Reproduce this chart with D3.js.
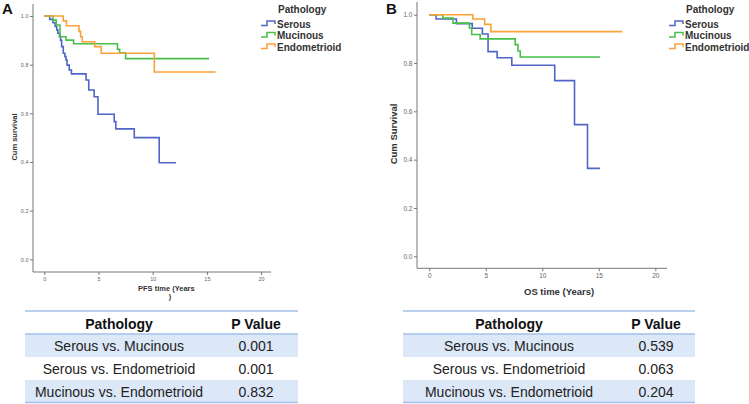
<!DOCTYPE html>
<html><head><meta charset="utf-8">
<script src="https://cdn.jsdelivr.net/npm/d3@7"></script>
<style>
html,body{margin:0;padding:0;background:#fff;}
svg{display:block;font-family:"Liberation Sans",Arial,sans-serif;}
</style></head>
<body><svg id="c" width="749" height="404"></svg>
<script>
// ---------- DATA ----------
const groups = ["Serous", "Mucinous", "Endometrioid"];
const groupColors = ["#4f66c6", "#46c04a", "#fba13a"];
const xTicks = [0, 5, 10, 15, 20];
const yTicks = [0, 0.2, 0.4, 0.6, 0.8, 1.0];

// Panel A: PFS  [time (years), cumulative survival]
const pfsSerous = [[0,1],[0.5,0.986],[0.8,0.972],[1.0,0.957],[1.15,0.943],[1.25,0.929],[1.4,0.915],[1.5,0.9],[1.6,0.874],[1.75,0.847],[1.9,0.833],[2.0,0.819],[2.1,0.798],[2.3,0.778],[2.5,0.762],[3.85,0.737],[4.1,0.696],[4.6,0.668],[4.95,0.596],[6.45,0.566],[6.6,0.536],[8.3,0.50],[10.6,0.397],[12.15,0.397]];
const pfsMucinous = [[0,1],[0.8,0.983],[1.1,0.963],[1.45,0.915],[2.0,0.901],[2.7,0.886],[6.75,0.863],[6.95,0.849],[7.5,0.825],[15.2,0.825]];
const pfsEndometrioid = [[0,1],[1.75,0.98],[2.05,0.96],[3.2,0.937],[3.35,0.915],[3.5,0.894],[4.65,0.874],[5.25,0.847],[10.15,0.77],[15.8,0.77]];

// Panel B: OS
const osSerous = [[0,1],[0.6,0.982],[2.4,0.963],[3.8,0.944],[4.7,0.92],[5.2,0.847],[6.0,0.822],[7.3,0.791],[11.1,0.727],[12.85,0.545],[14.0,0.364],[15.1,0.364]];
const osMucinous = [[0,1],[1.2,0.986],[2.1,0.965],[3.55,0.945],[3.75,0.918],[4.5,0.9],[7.6,0.876],[7.85,0.85],[8.05,0.825],[15.1,0.825]];
const osEndometrioid = [[0,1],[3.85,0.982],[4.9,0.96],[5.45,0.93],[17.1,0.93]];

// Tables
const comparisons = ["Serous vs. Mucinous", "Serous vs. Endometrioid", "Mucinous vs. Endometrioid"];
const pfsPValues = ["0.001", "0.001", "0.832"];
const osPValues = ["0.539", "0.063", "0.204"];
const tableHeaders = ["Pathology", "P Value"];

// ---------- DRAW ----------
const svg = d3.select("#c");

function drawPanel(cfg) {
  const g = svg.append("g");
  const x = d3.scaleLinear().domain([0, 20]).range([cfg.x0, cfg.x20]);
  const y = d3.scaleLinear().domain([0, 1]).range([cfg.y0, cfg.y1]);

  // y axis
  const yAx = g.append("g").attr("transform", `translate(${cfg.axisX},0)`)
    .call(d3.axisLeft(y).tickValues(yTicks).tickFormat(d3.format(".1f")).tickSize(3).tickPadding(1.5));
  yAx.select(".domain").remove();
  g.append("line").attr("x1", cfg.axisX).attr("x2", cfg.axisX).attr("y1", cfg.yTop).attr("y2", cfg.xAxisY)
    .attr("stroke", "#777").attr("stroke-width", 1);
  // x axis
  const xAx = g.append("g").attr("transform", `translate(0,${cfg.xAxisY})`)
    .call(d3.axisBottom(x).tickValues(xTicks).tickFormat(d3.format("d")).tickSize(3).tickPadding(2));
  xAx.select(".domain").remove();
  g.append("line").attr("x1", cfg.axisX).attr("x2", cfg.xRight).attr("y1", cfg.xAxisY).attr("y2", cfg.xAxisY)
    .attr("stroke", "#777").attr("stroke-width", 1);
  [yAx, xAx].forEach(a => {
    a.selectAll("line").attr("stroke", "#777");
    a.selectAll("text").attr("fill", "#666").style("font-size", cfg.tickFont + "px");
  });

  // curves
  const line = d3.line().x(d => x(d[0])).y(d => y(d[1])).curve(d3.curveStepAfter);
  cfg.series.forEach((s, i) => {
    g.append("path").datum(s).attr("d", line).attr("fill", "none")
      .attr("stroke", groupColors[i]).attr("stroke-width", 1.6);
  });

  // axis titles
  g.append("text").attr("transform", `translate(${cfg.yLabX},${cfg.yLabY}) rotate(-90)`)
    .attr("text-anchor", "middle").attr("font-weight", "bold").attr("fill", "#333")
    .style("font-size", cfg.yLabFont + "px").text(cfg.yLabel);
  cfg.xLabel.forEach((t, i) => {
    g.append("text").attr("x", cfg.xLabX[i]).attr("y", cfg.xLabY + i * cfg.xLabFont * 1.05)
      .attr("text-anchor", i === 0 ? "start" : "middle").attr("font-weight", "bold").attr("fill", "#333")
      .style("font-size", cfg.xLabFont + "px").text(t);
  });

  // panel letter
  g.append("text").attr("x", cfg.letterX).attr("y", 14).attr("font-weight", "bold")
    .style("font-size", "15px").attr("fill", "#111").text(cfg.letter);

  // legend
  const lg = g.append("g").attr("transform", `translate(${cfg.legX},0)`);
  lg.append("text").attr("x", 17).attr("y", 12.5).attr("font-weight", "bold").attr("fill", "#333")
    .style("font-size", "10px").text("Pathology");
  groups.forEach((name, i) => {
    const yy = 24 + i * 11.5;
    lg.append("path").attr("d", `M0,${yy+1.5} H6 V${yy-3} H14 V${yy}`)
      .attr("fill", "none").attr("stroke", groupColors[i]).attr("stroke-width", 1.5);
    lg.append("text").attr("x", 16).attr("y", yy + 3.5).attr("font-weight", "bold").attr("fill", "#333")
      .style("font-size", "10px").text(name);
  });
}

function drawTable(cfg) {
  const g = svg.append("g");
  const rowH = 23;
  const rows = d3.range(comparisons.length);
  const ry = d3.scaleBand().domain(rows).range([334, 334 + rowH * rows.length]);
  g.selectAll("rect.bg").data(rows).join("rect")
    .attr("x", cfg.x1).attr("width", cfg.x2 - cfg.x1)
    .attr("y", d => ry(d)).attr("height", ry.bandwidth())
    .attr("fill", d => d % 2 === 0 ? "#dce7f7" : "#ffffff");
  [311, 334, 334 + rowH * rows.length - 0.5].forEach(yy => {
    g.append("line").attr("x1", cfg.x1).attr("x2", cfg.x2).attr("y1", yy).attr("y2", yy)
      .attr("stroke", "#a3c1ea").attr("stroke-width", 1.5);
  });
  tableHeaders.forEach((h, i) => {
    g.append("text").attr("x", cfg.cols[i]).attr("y", 328.5).attr("text-anchor", "middle")
      .attr("font-weight", "bold").attr("fill", "#111").style("font-size", "14px").text(h);
  });
  g.selectAll("text.c").data(rows).join("text").attr("class", "c")
    .attr("x", cfg.cols[0]).attr("y", d => ry(d) + 16.5).attr("text-anchor", "middle")
    .attr("fill", "#222").style("font-size", "14px").text(d => comparisons[d]);
  g.selectAll("text.p").data(rows).join("text").attr("class", "p")
    .attr("x", cfg.cols[1]).attr("y", d => ry(d) + 16.5).attr("text-anchor", "middle")
    .attr("fill", "#222").style("font-size", "14px").text(d => cfg.values[d]);
}

drawPanel({
  letter: "A", letterX: 2,
  axisX: 33, x0: 44.3, x20: 261.1, y0: 259.3, y1: 16, xAxisY: 272, yTop: 4, xRight: 271,
  tickFont: 5.5,
  series: [pfsSerous, pfsMucinous, pfsEndometrioid],
  yLabel: "Cum survival", yLabX: 17, yLabY: 137, yLabFont: 7.5,
  xLabel: ["PFS time (Years", ")"], xLabX: [138, 170], xLabY: 291, xLabFont: 7.5,
  legX: 261
});
drawPanel({
  letter: "B", letterX: 386,
  axisX: 417, x0: 429.3, x20: 655.3, y0: 256.3, y1: 14.7, xAxisY: 268.3, yTop: 2, xRight: 667,
  tickFont: 6.5,
  series: [osSerous, osMucinous, osEndometrioid],
  yLabel: "Cum Survival", yLabX: 397, yLabY: 134, yLabFont: 9.5,
  xLabel: ["OS time  (Years)"], xLabX: [524], xLabY: 295, xLabFont: 9.5,
  legX: 669
});
drawTable({x1: 25, x2: 298, cols: [119, 256], values: pfsPValues});
drawTable({x1: 403, x2: 695, cols: [509, 656], values: osPValues});
</script>
</body></html>
